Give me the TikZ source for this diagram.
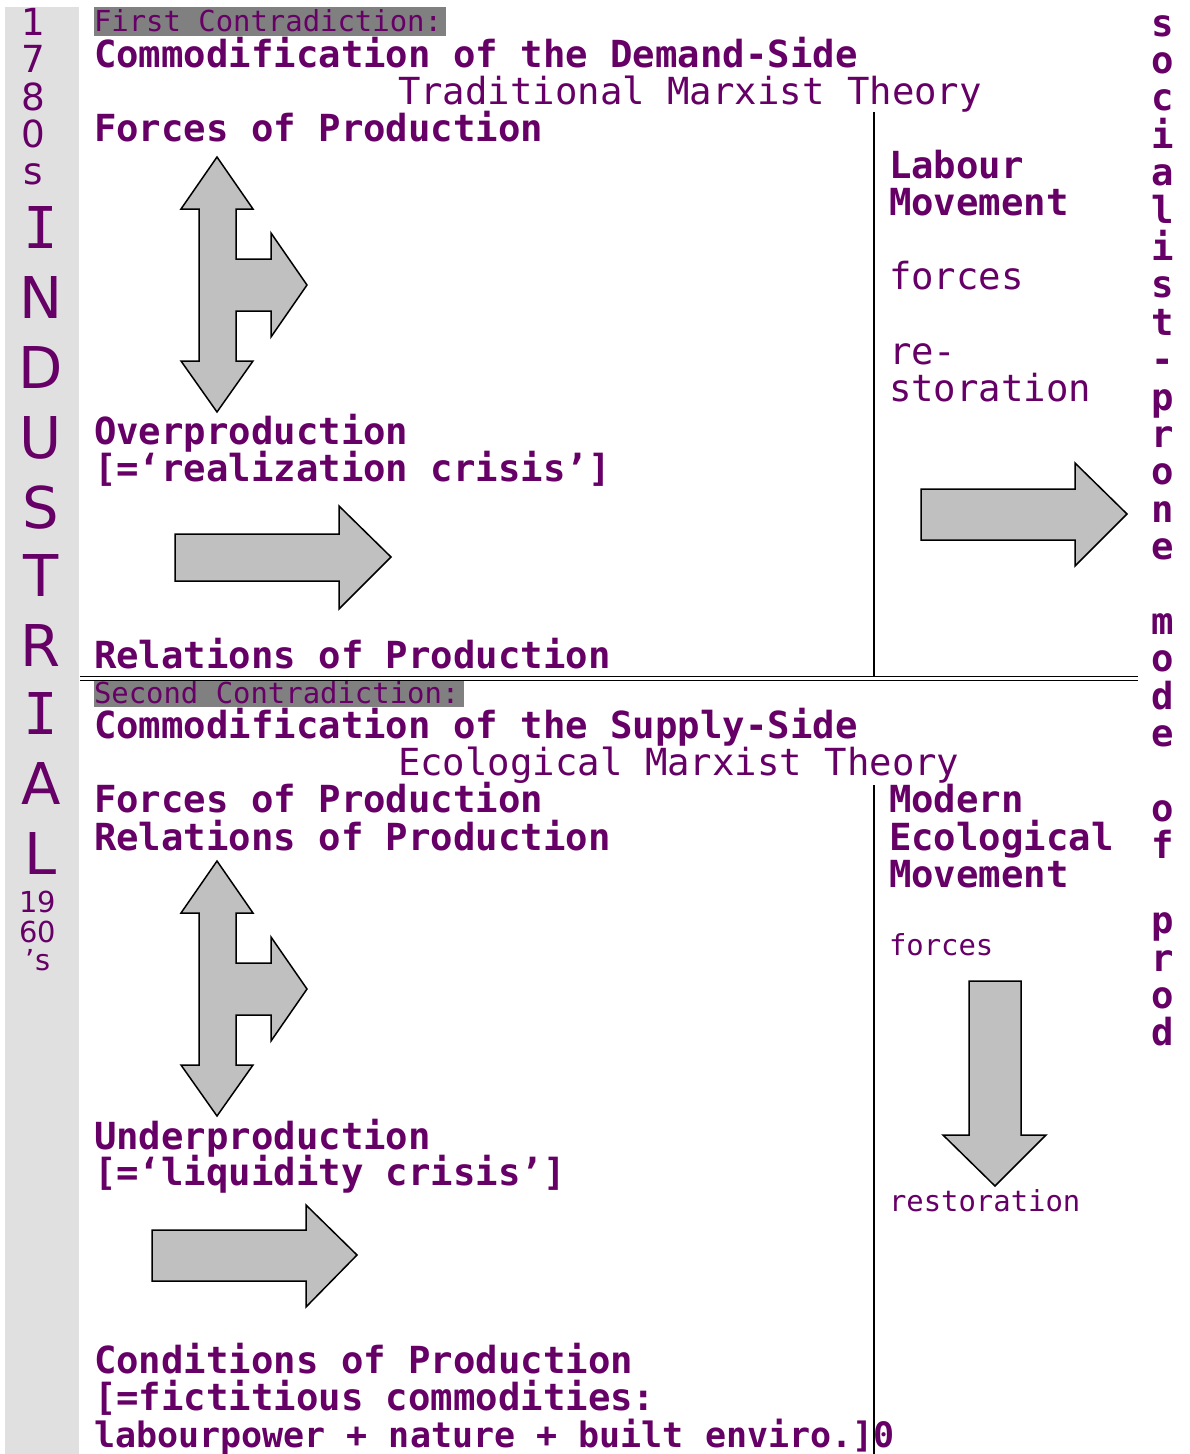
\documentclass[tikz,border=0pt]{standalone}
\usepackage{fontspec}
\setmainfont{DejaVu Sans Mono}
\newfontfamily\monof{DejaVu Sans Mono}
\newfontfamily\sansf{DejaVu Sans}
\definecolor{plum}{RGB}{102,0,102}
\definecolor{arrgray}{RGB}{192,192,192}
\definecolor{colgray}{RGB}{224,224,224}
\definecolor{boxgray}{RGB}{128,128,128}
\begin{document}
\begin{tikzpicture}[x=1pt,y=-1pt,
  txt/.style={inner sep=0pt, outer sep=0pt, anchor=base west, text=plum},
  big/.style={txt, font=\monof\bfseries\fontsize{37.3}{37.3}\selectfont},
  bignarrow/.style={txt, font=\monof\bfseries\fontsize{35}{35}\selectfont},
  reg/.style={txt, font=\monof\fontsize{37.3}{37.3}\selectfont},
  small/.style={txt, font=\monof\fontsize{28.9}{28.9}\selectfont},
  vert/.style={inner sep=0pt, outer sep=0pt, anchor=base, text=plum, font=\monof\bfseries\fontsize{37.3}{37.3}\selectfont},
  years/.style={inner sep=0pt, outer sep=0pt, anchor=base, text=plum, font=\sansf\fontsize{37.3}{37.3}\selectfont},
  yearsmall/.style={inner sep=0pt, outer sep=0pt, anchor=base, text=plum, font=\sansf\fontsize{28.9}{28.9}\selectfont},
  indus/.style={inner sep=0pt, outer sep=0pt, anchor=base, text=plum, font=\sansf\fontsize{57.6}{57.6}\selectfont},
  indusI/.style={inner sep=0pt, outer sep=0pt, anchor=base, text=plum, font=\monof\fontsize{57.6}{57.6}\selectfont},
  arr/.style={fill=arrgray, draw=black, line width=1.5pt, line join=miter}]
\useasboundingbox (0,0) rectangle (1190,1454);

% left column
\fill[colgray] (5,7) rectangle (79,1454);
\foreach \c/\y [count=\i] in {1/35,7/72,8/110,0/147,s/184}
  \node[years] (yr\i) at (33,\y) {\c};
\node[indusI] (ind1) at (41,248) {I};
\foreach \c/\y [count=\i from 2] in {N/318,D/388,U/458,S/528,T/596,R/666}
  \node[indus] (ind\i) at (41,\y) {\c};
\node[indusI] (ind8) at (41,734) {I};
\foreach \c/\y [count=\i from 9] in {A/804,L/874}
  \node[indus] (ind\i) at (41,\y) {\c};
\node[yearsmall] (ya) at (38,912) {19};
\node[yearsmall] (yb) at (38,942) {60};
\node[yearsmall] (yc) at (38,970) {’s};

% right vertical text
\foreach \c/\k [count=\i] in {s/0,o/1,c/2,i/3,a/4,l/5,i/6,s/7,t/8,-/9,p/10,r/11,o/12,n/13,e/14,m/16,o/17,d/18,e/19,o/21,f/22,p/24,r/25,o/26,d/27}
  \node[vert] (soc\i) at (1163,{36+37.4*\k}) {\c};

% separators
\draw[line width=1pt] (80,676) -- (1138,676);
\draw[line width=1pt] (80,680) -- (1138,680);
\draw[line width=2pt] (874,112) -- (874,676);
\draw[line width=2pt] (874,785) -- (874,1454);

% gray label boxes
\fill[boxgray] (94,7) rectangle (446,36);
\fill[boxgray] (94,681) rectangle (464,707);

% upper section texts
\node[small] (fc) at (94,31) {First Contradiction:};
\node[big] (cd) at (94,67) {Commodification of the Demand-Side};
\node[reg] (tmt) at (398,104) {Traditional Marxist Theory};
\node[big] (fp1) at (94,141) {Forces of Production};
\node[big] (lab) at (889,178) {Labour};
\node[big] (mov1) at (889,215) {Movement};
\node[reg] (frc1) at (889,289) {forces};
\node[reg] (re) at (889,364) {re-};
\node[reg] (stor) at (889,401) {storation};
\node[big] (over) at (94,444) {Overproduction};
\node[big] (real) at (94,481) {[=‘realization crisis’]};
\node[big] (rp1) at (94,668) {Relations of Production};

% lower section texts
\node[small] (sc) at (94,703) {Second Contradiction:};
\node[big] (cs) at (94,738) {Commodification of the Supply-Side};
\node[reg] (emt) at (398,775) {Ecological Marxist Theory};
\node[big] (fp2) at (94,812) {Forces of Production};
\node[big] (rp2) at (94,850) {Relations of Production};
\node[big] (mod) at (889,812) {Modern};
\node[big] (eco) at (889,850) {Ecological};
\node[big] (mov2) at (889,887) {Movement};
\node[small] (frc2) at (889,955) {forces};
\node[big] (under) at (94,1149) {Underproduction};
\node[big] (liq) at (94,1185) {[=‘liquidity crisis’]};
\node[small] (rest) at (889,1211) {restoration};
\node[big] (cond) at (94,1373) {Conditions of Production};
\node[big] (fict) at (94,1410) {[=fictitious commodities:};
\node[bignarrow] (lab2) at (94,1447) {labourpower + nature + built enviro.]0};

% arrows
\draw[arr] (217,157) -- (253,209) -- (236,209) -- (236,259) -- (271,259) -- (271,233) -- (307,285) -- (271,337) -- (271,311) -- (236,311) -- (236,361) -- (253,361) -- (217,412) -- (181,361) -- (199,361) -- (199,209) -- (181,209) -- cycle;
\begin{scope}[yshift=-704pt]
\draw[arr] (217,157) -- (253,209) -- (236,209) -- (236,259) -- (271,259) -- (271,233) -- (307,285) -- (271,337) -- (271,311) -- (236,311) -- (236,361) -- (253,361) -- (217,412) -- (181,361) -- (199,361) -- (199,209) -- (181,209) -- cycle;
\end{scope}
\draw[arr] (175,534) -- (339,534) -- (339,506) -- (391,557) -- (339,609) -- (339,581) -- (175,581) -- cycle;
\draw[arr] (152,1230) -- (306,1230) -- (306,1205) -- (357,1255) -- (306,1307) -- (306,1281) -- (152,1281) -- cycle;
\draw[arr] (921,489) -- (1075,489) -- (1075,463) -- (1127,514) -- (1075,566) -- (1075,540) -- (921,540) -- cycle;
\draw[arr] (969,981) -- (1021,981) -- (1021,1135) -- (1046,1135) -- (995,1186) -- (943,1135) -- (969,1135) -- cycle;
\end{tikzpicture}
\end{document}
